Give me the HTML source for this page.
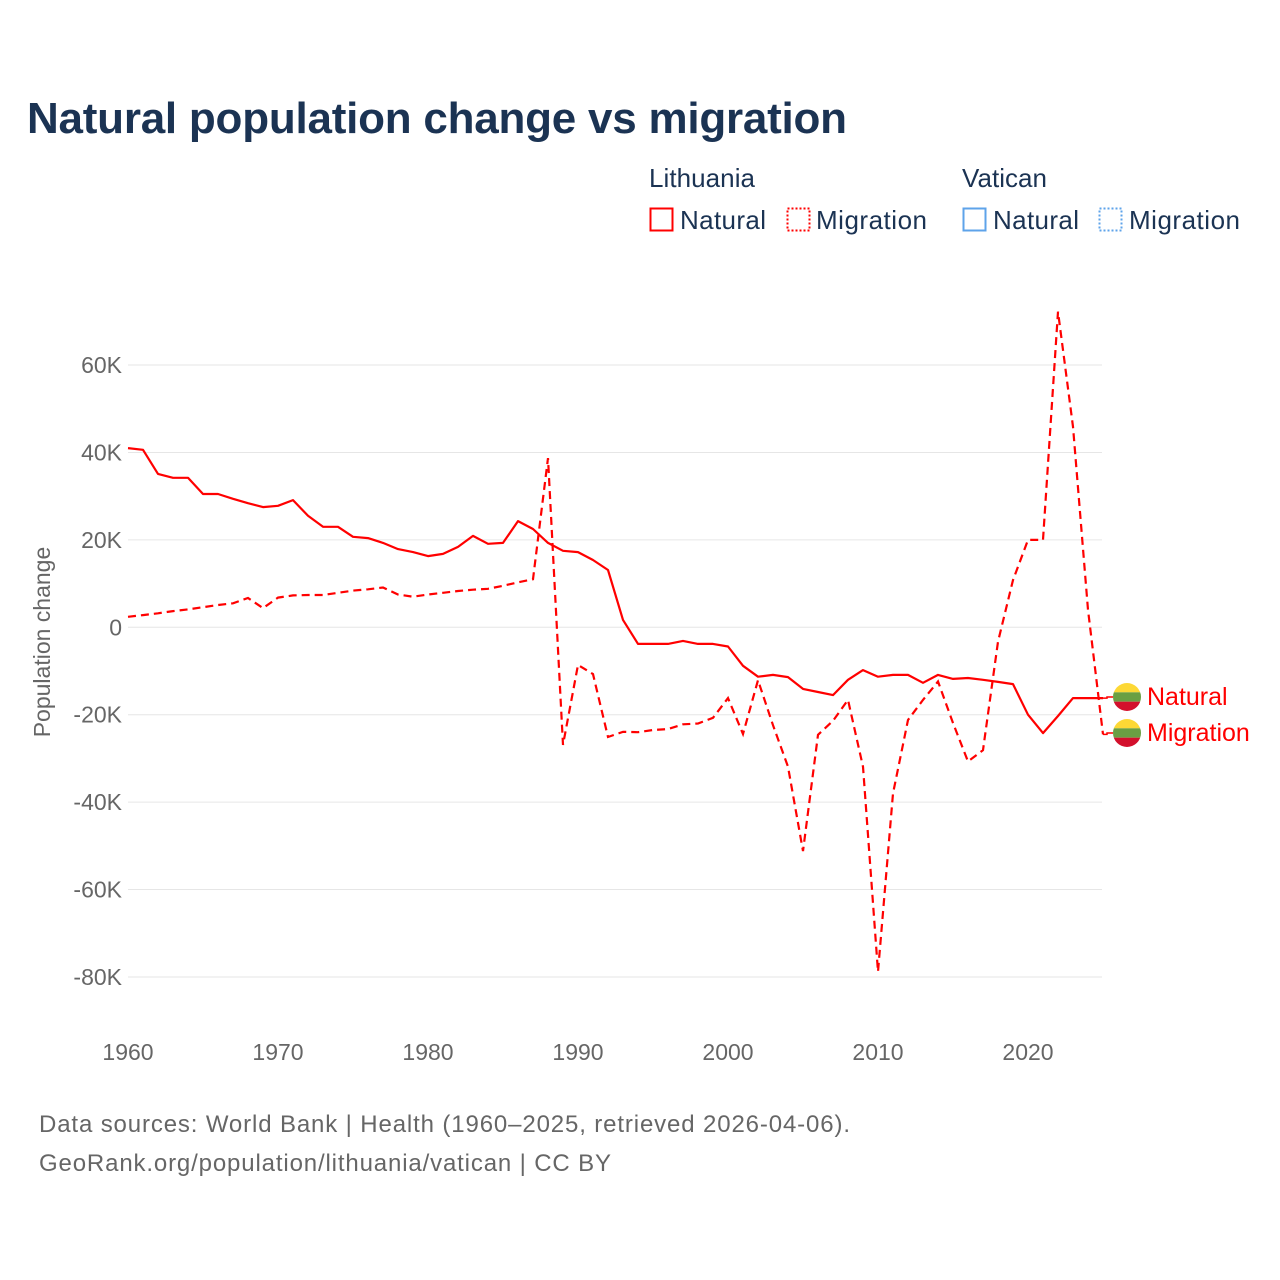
<!DOCTYPE html>
<html><head><meta charset="utf-8"><style>
body{margin:0;background:#fff;}
svg{display:block;font-family:"Liberation Sans",sans-serif;}
</style></head><body>
<svg id="chart" width="1280" height="1280" viewBox="0 0 1280 1280">
<text x="27" y="133" font-size="44" font-weight="bold" fill="#1b3353" textLength="820">Natural population change vs migration</text>
<g font-size="26" fill="#1b3353">
<text x="649" y="187" textLength="106">Lithuania</text>
<text x="962" y="187" textLength="85">Vatican</text>
<g><rect x="650.5" y="208.5" width="22" height="22" fill="none" stroke="#ff0000" stroke-width="2"/><text x="680" y="229" textLength="86">Natural</text></g>
<g><rect x="787.5" y="208.5" width="22" height="22" fill="none" stroke="#ff0000" stroke-width="2" stroke-dasharray="2,2"/><text x="816" y="229" textLength="111">Migration</text></g>
<g><rect x="963.5" y="208.5" width="22" height="22" fill="none" stroke="#5ea3ea" stroke-width="2"/><text x="993" y="229" textLength="86">Natural</text></g>
<g><rect x="1099.5" y="208.5" width="22" height="22" fill="none" stroke="#5ea3ea" stroke-width="2" stroke-dasharray="2,2"/><text x="1129" y="229" textLength="111">Migration</text></g>
</g>
<g id="grid"></g>
<g id="yticks" font-size="23" fill="#666" text-anchor="end"></g>
<g id="xticks" font-size="23" fill="#666" text-anchor="middle"></g>
<text transform="translate(50,642) rotate(-90)" font-size="23" fill="#666" text-anchor="middle">Population change</text>
<g id="series"></g>
<g id="labels"></g>
<text x="39" y="1132" font-size="24" fill="#666" textLength="811">Data sources: World Bank | Health (1960–2025, retrieved 2026-04-06).</text>
<text x="39" y="1171" font-size="24" fill="#666" textLength="572">GeoRank.org/population/lithuania/vatican | CC BY</text>
</svg>
<script>
const years=[];for(let y=1960;y<=2025;y++)years.push(y);
const naturalK=[41.0,40.6,35.1,34.2,34.2,30.5,30.5,29.4,28.4,27.5,27.8,29.1,25.5,23.0,23.0,20.7,20.4,19.3,17.9,17.2,16.3,16.8,18.4,20.9,19.1,19.3,24.3,22.5,19.3,17.5,17.2,15.4,13.1,1.7,-3.8,-3.8,-3.8,-3.1,-3.8,-3.8,-4.4,-8.8,-11.3,-10.9,-11.4,-14.1,-14.8,-15.5,-12.0,-9.8,-11.3,-10.9,-10.9,-12.7,-10.9,-11.8,-11.6,-12.0,-12.5,-13.0,-20.0,-24.2,-20.3,-16.2,-16.2,-16.2];
const migrationK=[2.4,2.8,3.2,3.7,4.1,4.6,5.1,5.5,6.7,4.4,6.8,7.3,7.4,7.4,7.9,8.4,8.7,9.1,7.5,7.0,7.5,7.9,8.3,8.6,8.8,9.5,10.3,11.0,38.7,-26.9,-8.6,-10.7,-25.1,-23.9,-24.0,-23.5,-23.3,-22.2,-22.0,-20.7,-16.2,-24.4,-12.1,-22.4,-31.9,-51.2,-24.6,-21.4,-16.6,-31.9,-78.8,-38.0,-21.2,-16.6,-12.4,-21.9,-30.7,-28.1,-3.3,10.8,20.0,20.0,72.2,45.9,4.0,-24.5];
const yTicks=[-80,-60,-40,-20,0,20,40,60];
const xTicks=[1960,1970,1980,1990,2000,2010,2020];
const NS="http://www.w3.org/2000/svg";
const X=y=>128+(y-1960)*15;
const Y=v=>627.3-v*4.371;
function mk(t,a,p){const e=document.createElementNS(NS,t);for(const k in a)e.setAttribute(k,a[k]);p.appendChild(e);return e;}
const grid=document.getElementById('grid'),yt=document.getElementById('yticks'),xt=document.getElementById('xticks');
yTicks.forEach(v=>{
 const l=mk('line',{x1:128,x2:1102,y1:Y(v),y2:Y(v),stroke:'#e6e6e6','stroke-width':1},grid);
 
 
 const t=mk('text',{x:122,y:Y(v)+8},yt);t.textContent=v===0?'0':v+'K';
 
 
});
xTicks.forEach(v=>{
 const t=mk('text',{x:X(v),y:1060},xt);t.textContent=v;
 
 
});
const s=document.getElementById('series');
function path(arr){return arr.map((v,i)=>(i?'L':'M')+X(years[i]).toFixed(1)+','+Y(v).toFixed(1)).join(' ');}
const pn=mk('path',{d:path(naturalK),fill:'none',stroke:'#ff0000','stroke-width':2.2,'stroke-linejoin':'round'},s);


const pm=mk('path',{d:path(migrationK),fill:'none',stroke:'#ff0000','stroke-width':2.2,'stroke-dasharray':'8,5'},s);


const lb=document.getElementById('labels');
const lastX=X(2025);
[[naturalK[naturalK.length-1],697,'Natural'],[migrationK[migrationK.length-1],733,'Migration']].forEach(([v,ly,name])=>{
 const g=mk('g',{},lb);
 
 
 mk('polyline',{points:`${lastX},${Y(v)} ${lastX+4},${Y(v)} ${lastX+4},${ly} 1113,${ly}`,fill:'none',stroke:'#ff0000','stroke-width':1.5},g);
 const cx=1127,r=14;
 const cid='c'+name;
 const cp=mk('clipPath',{id:cid},g);mk('circle',{cx:cx,cy:ly,r:r},cp);
 const fg=mk('g',{'clip-path':`url(#${cid})`},g);
 mk('rect',{x:cx-r,y:ly-r,width:2*r,height:28/3,fill:'#fdd835'},fg);
 mk('rect',{x:cx-r,y:ly-r+28/3,width:2*r,height:28/3,fill:'#6a9f43'},fg);
 mk('rect',{x:cx-r,y:ly-r+56/3,width:2*r,height:28/3,fill:'#d3102c'},fg);
 const t=mk('text',{x:1147,y:ly+8,'font-size':25,fill:'#ff0000'},g);t.textContent=name;
});
</script>
</body></html>
